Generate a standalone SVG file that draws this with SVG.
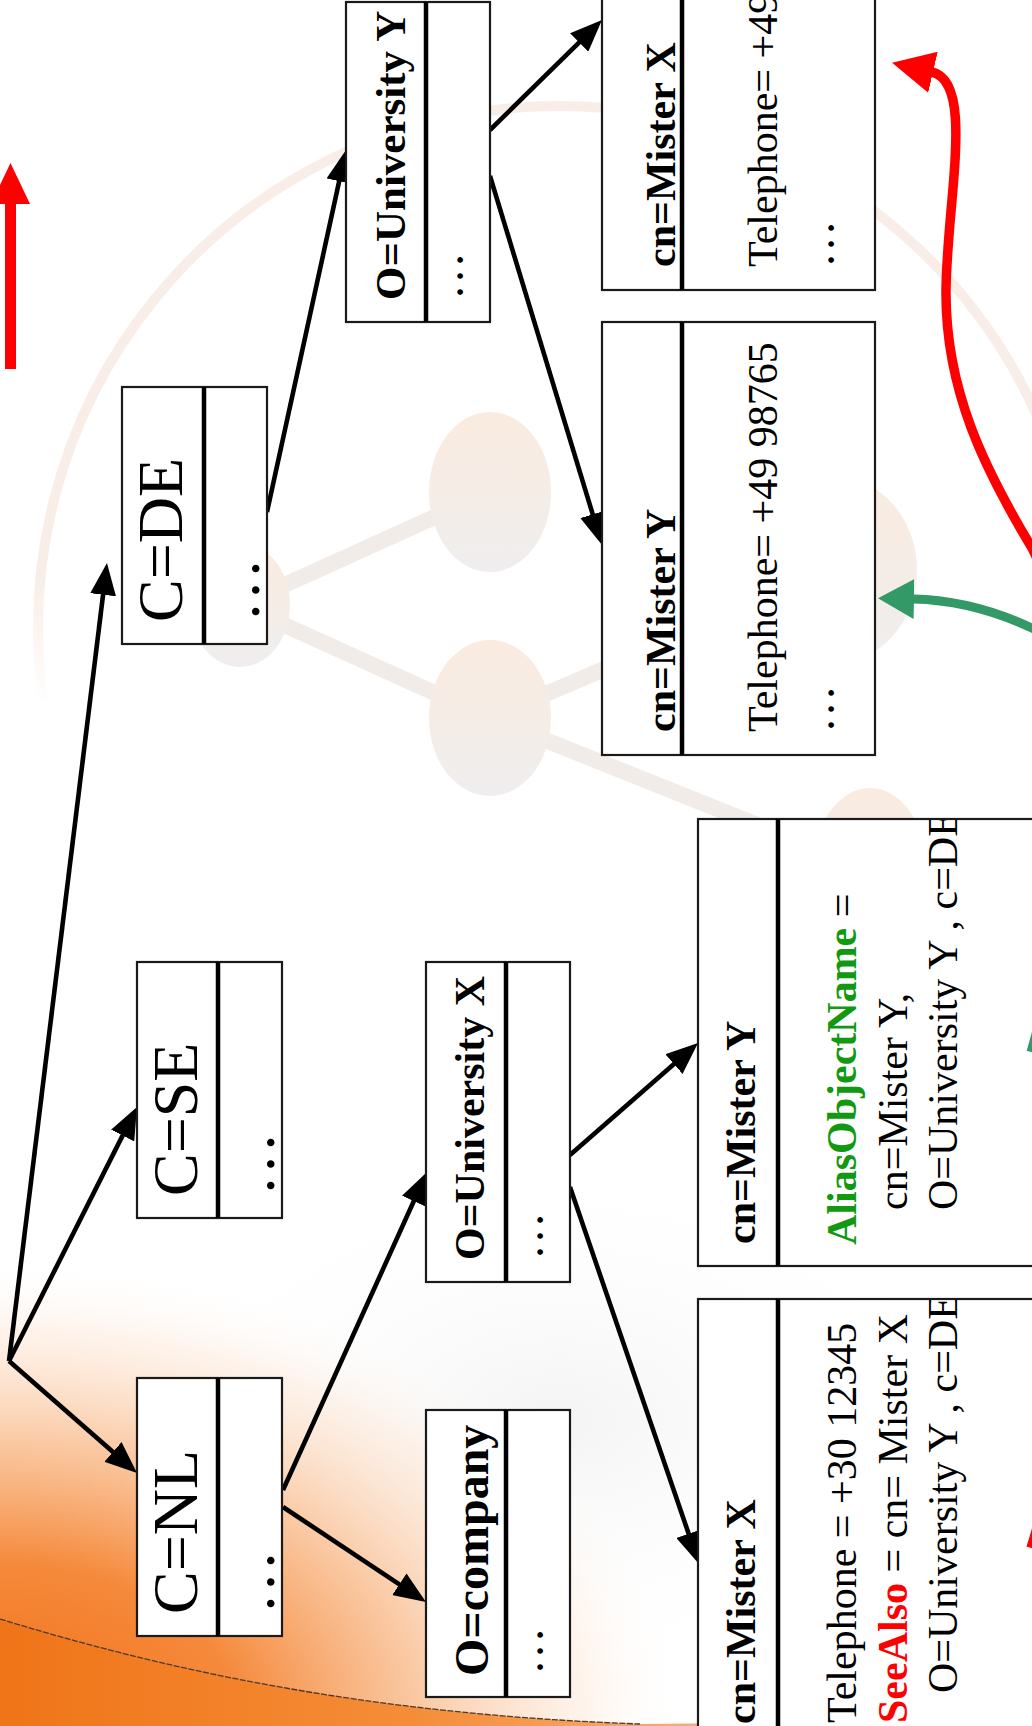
<svg xmlns="http://www.w3.org/2000/svg" width="1032" height="1726" viewBox="0 0 1032 1726">
  <defs>
    <style>
      .box { fill:#ffffff; stroke:#1a1a1a; stroke-width:2.2; }
      .div { stroke:#000000; stroke-width:4.5; }
      .t { font-family:"Liberation Serif","Times New Roman",serif; fill:#000000; }
      .c64 { font-size:64px; }
      .b42 { font-size:42px; font-weight:bold; }
      .r42 { font-size:42px; }
      .d48 { font-size:48px; }
      .green { fill:#119911; font-weight:bold; }
      .red { fill:#ff0000; font-weight:bold; }
      .conn { stroke:#000000; stroke-width:4.6; fill:none; }
      .blob { fill:url(#blobFill); }
      .bar { stroke:#f2ece8; stroke-width:16; stroke-linecap:round; }
    </style>
    <marker id="ah" markerUnits="userSpaceOnUse" viewBox="0 0 32 26" markerWidth="32" markerHeight="26" refX="24" refY="13" orient="auto">
      <path d="M0,0 L32,13 L0,26 Z" fill="#000000"/>
    </marker>
    <marker id="ahRed" markerUnits="userSpaceOnUse" viewBox="0 0 42 42" markerWidth="42" markerHeight="42" refX="1" refY="21" orient="auto">
      <path d="M0,0 L42,21 L0,42 Z" fill="#ff0000"/>
    </marker>
    <marker id="ahGreen" markerUnits="userSpaceOnUse" viewBox="0 0 36 40" markerWidth="36" markerHeight="40" refX="1" refY="20" orient="auto">
      <path d="M0,0 L36,20 L0,40 Z" fill="#339966"/>
    </marker>
    <linearGradient id="blobFill" x1="0" y1="0" x2="0" y2="1">
      <stop offset="0" stop-color="#faebdf"/>
      <stop offset="1" stop-color="#efeeee"/>
    </linearGradient>
    <linearGradient id="arcFade" gradientUnits="userSpaceOnUse" x1="0" y1="720" x2="60" y2="560">
      <stop offset="0.15" stop-color="#f8eee7" stop-opacity="0"/>
      <stop offset="0.85" stop-color="#f8eee7" stop-opacity="1"/>
    </linearGradient>
    <radialGradient id="orangeHaze" gradientUnits="userSpaceOnUse" cx="0" cy="1726" r="600" gradientTransform="translate(0 1726) scale(1.15 0.78) translate(0 -1726)">
      <stop offset="0" stop-color="#f26f17"/>
      <stop offset="0.35" stop-color="#f58a3c"/>
      <stop offset="0.6" stop-color="#f9bd8f" stop-opacity="0.85"/>
      <stop offset="0.85" stop-color="#fde6d4" stop-opacity="0.45"/>
      <stop offset="1" stop-color="#ffffff" stop-opacity="0"/>
    </radialGradient>
    <linearGradient id="orangeBand" gradientUnits="userSpaceOnUse" x1="0" y1="0" x2="1032" y2="0">
      <stop offset="0" stop-color="#f07418"/>
      <stop offset="0.4" stop-color="#f58d38"/>
      <stop offset="0.68" stop-color="#f9ad72"/>
      <stop offset="1" stop-color="#fcd6b6"/>
    </linearGradient>
    <radialGradient id="greyHaze" cx="0.5" cy="0.5" r="0.5">
      <stop offset="0" stop-color="#efefef" stop-opacity="0.7"/>
      <stop offset="1" stop-color="#ffffff" stop-opacity="0"/>
    </radialGradient>
    <clipPath id="clipAlias"><rect x="699" y="820" width="340" height="445"/></clipPath>
    <clipPath id="clipSee"><rect x="699" y="1300" width="340" height="430"/></clipPath>
  </defs>

  <!-- soft backdrop: haze, orange swoosh, big ring and molecule motif -->
  <g id="backdrop">
    <rect x="0" y="0" width="1032" height="1726" fill="#ffffff"/>
    <ellipse cx="560" cy="1420" rx="430" ry="270" fill="url(#greyHaze)"/>
    <rect x="0" y="1050" width="800" height="676" fill="url(#orangeHaze)"/>
    <path d="M0 1619 C160 1668 360 1714 640 1724 L1032 1720 L1032 1726 L0 1726 Z" fill="url(#orangeBand)"/>
    <path d="M0 1619 C160 1668 360 1714 640 1724" fill="none" stroke="#4a3a2a" stroke-width="1.3" stroke-dasharray="6 1.5"/>
    <path d="M43 700 A522 522 0 1 1 1082 631" fill="none" stroke="url(#arcFade)" stroke-width="10"/>
    <line class="bar" x1="240" y1="605" x2="490" y2="492"/>
    <line class="bar" x1="240" y1="605" x2="490" y2="718"/>
    <line class="bar" x1="490" y1="718" x2="835" y2="570"/>
    <line class="bar" x1="490" y1="718" x2="870" y2="870"/>
    <ellipse class="blob" cx="240" cy="605" rx="50" ry="62"/>
    <ellipse class="blob" cx="490" cy="492" rx="61" ry="80"/>
    <ellipse class="blob" cx="490" cy="718" rx="61" ry="78"/>
    <ellipse class="blob" cx="835" cy="570" rx="82" ry="93"/>
    <ellipse class="blob" cx="870" cy="870" rx="57" ry="82"/>
  </g>

  <!-- indicator arrow, upper left -->
  <g id="indicator">
    <rect x="5" y="200" width="11" height="169" fill="#ff0000"/>
    <polygon points="-9,204 30,204 10.5,163" fill="#ff0000"/>
  </g>

  <!-- tree connectors -->
  <g id="connectors" class="conn" marker-end="url(#ah)">
    <path d="M9 1361 L131 1467.7"/>
    <path d="M9 1361 L133.4 1114.1"/>
    <path d="M9 1361 L106 570.9"/>
    <path d="M267 512 L344.3 157.8"/>
    <path d="M490 130 L596.3 25.6"/>
    <path d="M490 176 L599.7 537.3"/>
    <path d="M283 1490 L423.7 1179.3"/>
    <path d="M283 1507 L419.3 1597.6"/>
    <path d="M570 1155 L692 1048.3"/>
    <path d="M570 1187 L696.4 1556.4"/>
  </g>

  <!-- country entries -->
  <g id="node-c-de">
    <rect class="box" x="122" y="387" width="145" height="257"/>
    <line class="div" x1="204" y1="387" x2="204" y2="644"/>
    <text class="t c64" transform="translate(182 622) rotate(-90)">C=DE</text>
    <text class="t c64" transform="translate(259 622) rotate(-90)">…</text>
  </g>
  <g id="node-c-se">
    <rect class="box" x="137" y="962" width="145" height="256"/>
    <line class="div" x1="218" y1="962" x2="218" y2="1218"/>
    <text class="t c64" transform="translate(197 1196) rotate(-90)">C=SE</text>
    <text class="t c64" transform="translate(274 1196) rotate(-90)">…</text>
  </g>
  <g id="node-c-nl">
    <rect class="box" x="137" y="1378" width="145" height="258"/>
    <line class="div" x1="218" y1="1378" x2="218" y2="1636"/>
    <text class="t c64" transform="translate(197 1614) rotate(-90)">C=NL</text>
    <text class="t c64" transform="translate(274 1614) rotate(-90)">…</text>
  </g>

  <!-- organisation entries -->
  <g id="node-o-univ-y">
    <rect class="box" x="346" y="2" width="144" height="320"/>
    <line class="div" x1="426" y1="2" x2="426" y2="322"/>
    <text class="t b42" style="font-size:43px" transform="translate(405 300) rotate(-90)">O=University Y</text>
    <text class="t d48" transform="translate(463 300) rotate(-90)">…</text>
  </g>
  <g id="node-o-univ-x">
    <rect class="box" x="426" y="962" width="144" height="320"/>
    <line class="div" x1="506" y1="962" x2="506" y2="1282"/>
    <text class="t b42" transform="translate(484 1260) rotate(-90)">O=University X</text>
    <text class="t d48" transform="translate(543 1260) rotate(-90)">…</text>
  </g>
  <g id="node-o-company">
    <rect class="box" x="426" y="1410" width="144" height="287"/>
    <line class="div" x1="506" y1="1410" x2="506" y2="1697"/>
    <text class="t b42" style="font-size:48px" transform="translate(488 1676) rotate(-90)">O=company</text>
    <text class="t d48" transform="translate(543 1675) rotate(-90)">…</text>
  </g>

  <!-- person entries under University Y -->
  <g id="node-cn-mister-x-y">
    <rect class="box" x="602" y="-150" width="273" height="440"/>
    <line class="div" x1="682" y1="-150" x2="682" y2="290"/>
    <text class="t b42" transform="translate(675 267) rotate(-90)">cn=Mister X</text>
    <text class="t r42" transform="translate(777 267) rotate(-90)">Telephone= +49 98765</text>
    <text class="t d48" transform="translate(834 268) rotate(-90)">…</text>
  </g>
  <g id="node-cn-mister-y-y">
    <rect class="box" x="602" y="322" width="273" height="433"/>
    <line class="div" x1="682" y1="322" x2="682" y2="755"/>
    <text class="t b42" transform="translate(675 732) rotate(-90)">cn=Mister Y</text>
    <text class="t r42" transform="translate(777 732) rotate(-90)">Telephone= +49 98765</text>
    <text class="t d48" transform="translate(834 733) rotate(-90)">…</text>
  </g>

  <!-- person entries under University X -->
  <g id="node-cn-mister-y-x">
    <rect class="box" x="698" y="819" width="360" height="447"/>
    <line class="div" x1="778" y1="819" x2="778" y2="1266"/>
    <text class="t b42" transform="translate(755 1244) rotate(-90)">cn=Mister Y</text>
    <g clip-path="url(#clipAlias)">
      <text class="t r42" transform="translate(856 1245) rotate(-90)"><tspan class="green">AliasObjectName</tspan> =</text>
      <text class="t r42" transform="translate(907 1210) rotate(-90)">cn=Mister Y,</text>
      <text class="t r42" transform="translate(957 1210) rotate(-90)">O=University Y , c=DE</text>
    </g>
  </g>
  <g id="node-cn-mister-x-x">
    <rect class="box" x="698" y="1299" width="360" height="447"/>
    <line class="div" x1="778" y1="1299" x2="778" y2="1746"/>
    <text class="t b42" transform="translate(755 1724) rotate(-90)">cn=Mister X</text>
    <g clip-path="url(#clipSee)">
      <text class="t r42" transform="translate(856 1723) rotate(-90)">Telephone = +30 12345</text>
      <text class="t r42" transform="translate(907 1723) rotate(-90)"><tspan class="red">SeeAlso</tspan> = cn= Mister X</text>
      <text class="t r42" transform="translate(957 1693) rotate(-90)">O=University Y , c=DE</text>
    </g>
  </g>

  <!-- reference links -->
  <g id="links" fill="none">
    <path d="M1031 1052 C1080 880 1125 665 1040 632 C1000 612 960 600 913 599" stroke="#339966" stroke-width="9" marker-end="url(#ahGreen)"/>
    <path d="M1031 1548 C1110 1300 1110 700 1032 548 C985 470 945 390 946 290 C947 200 975 82 932 72" stroke="#ff0000" stroke-width="9.5" marker-end="url(#ahRed)"/>
  </g>
</svg>
